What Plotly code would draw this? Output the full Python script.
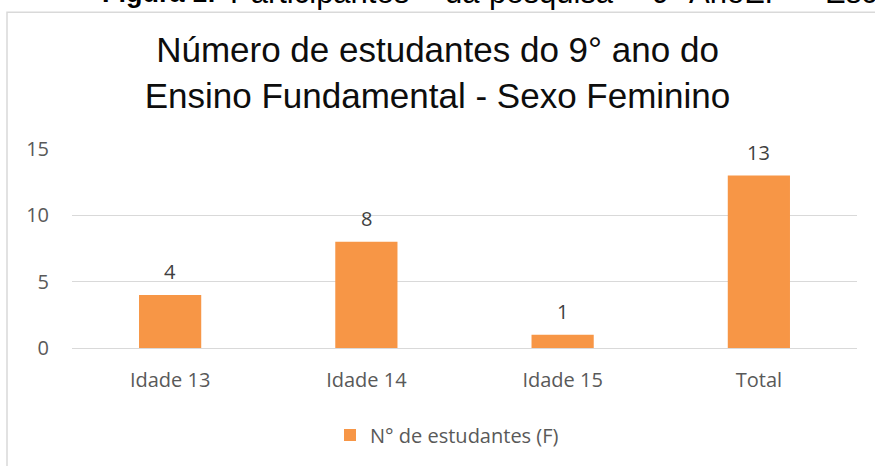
import plotly.graph_objects as go

categories = ["Idade 13", "Idade 14", "Idade 15", "Total"]
values = [4, 8, 1, 13]
series_name = "N° de estudantes (F)"
y_ticks = [0, 5, 10, 15]
caption_words = ["<b>Figura 1:</b>", "Participantes", "da", "pesquisa", "–", "9°", "AnoEF", "–", "Escola"]

W, H = 875, 466
L, R, T, B = 72, 18, 149, 116
pw, ph = W - L - R, H - T - B

def px(x):
    return (x - L) / pw

def py(y):
    return (H - B - y) / ph

fig = go.Figure()
fig.add_trace(go.Bar(
    x=categories, y=values, name=series_name,
    marker=dict(color="#F79646", line=dict(width=0)),
    showlegend=True,
))

label_font = dict(family="Open Sans, sans-serif", size=20, color="#404040")
annotations = [
    dict(x=c, y=v, xref="x", yref="y", text=str(v), showarrow=False,
         yanchor="middle", yshift=23, font=label_font)
    for c, v in zip(categories, values)
]

# caption above the chart (cut off by the top edge, as in the source image)
caption_x = [100, 228, 443, 487, 622, 650, 687, 796, 823]
caption_size = [27, 31, 31, 31, 31, 31, 31, 31, 31]
for word, xw, sz in zip(caption_words, caption_x, caption_size):
    annotations.append(dict(
        text=word, xref="paper", yref="paper", x=px(xw), xanchor="left",
        y=py(-9), yanchor="middle", showarrow=False,
        font=dict(family="Liberation Sans, Arial, sans-serif", size=sz, color="#000000"),
    ))

fig.update_layout(
    width=W, height=H,
    margin=dict(l=L, r=R, t=T, b=B),
    paper_bgcolor="white", plot_bgcolor="white",
    bargap=0.683,
    title=dict(
        text="Número de estudantes do 9° ano do<br>Ensino Fundamental - Sexo Feminino",
        x=0.5, xanchor="center", y=1 - 62 / H, yanchor="middle",
        font=dict(family="Liberation Sans, Arial, sans-serif", size=35, color="#0d0d0d"),
    ),
    xaxis=dict(
        showgrid=False, showline=False, zeroline=False, ticks="",
        tickfont=dict(family="Open Sans, sans-serif", size=20, color="#595959"),
        ticklabelstandoff=18,
    ),
    yaxis=dict(
        range=[0, 15], tickvals=y_ticks, showgrid=True, gridcolor="#d9d9d9", gridwidth=1,
        zeroline=True, zerolinecolor="#d9d9d9", zerolinewidth=1, showline=False, ticks="",
        tickfont=dict(family="Open Sans, sans-serif", size=20, color="#595959"),
        ticklabelstandoff=22,
    ),
    legend=dict(
        orientation="h", x=px(330), xanchor="left", y=py(438), yanchor="middle",
        font=dict(family="Open Sans, sans-serif", size=20, color="#595959"),
    ),
    shapes=[dict(
        type="rect", xref="paper", yref="paper",
        x0=px(7), x1=px(900), y0=py(500), y1=py(11),
        line=dict(color="#d9d9d9", width=1.5), fillcolor="rgba(0,0,0,0)", layer="below",
    )],
    annotations=annotations,
)

fig.write_html(
    "out.html",
    config={"displayModeBar": False},
    post_script="document.body.style.margin='0';document.body.style.overflow='hidden';",
)
